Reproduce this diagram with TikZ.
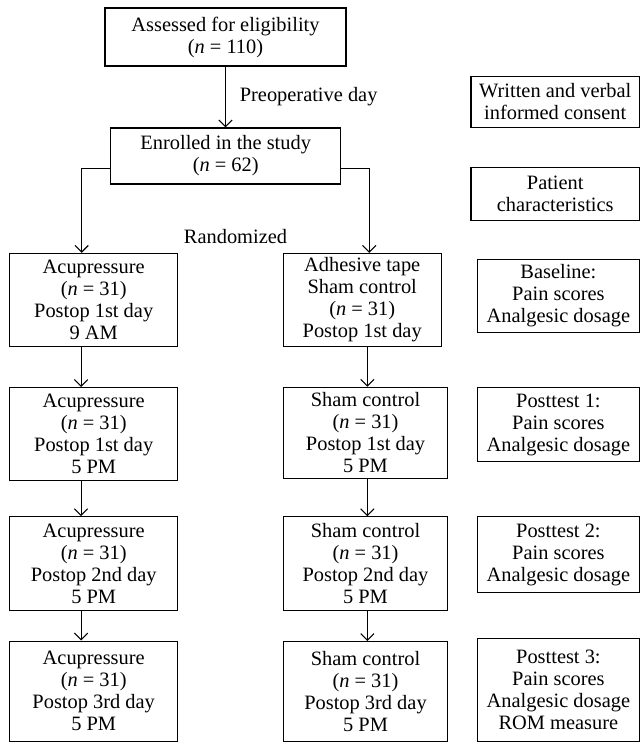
\documentclass[tikz,border=0pt]{standalone}
\usepackage{fontspec}
\setmainfont{Liberation Serif}
\usetikzlibrary{arrows.meta}

\begin{document}
\begin{tikzpicture}[x=0.75pt, y=-0.75pt,
    font=\fontsize{15.3}{16.5}\selectfont,
    box/.style={draw, line width=0.8pt, align=center, inner sep=0pt},
    arr/.style={line width=0.8pt, -{Straight Barb[length=5pt,width=10pt]}}]
    \useasboundingbox (0,0) rectangle (640,743);

    % main flow
    \node[box, minimum width=180.75pt, minimum height=43.5pt] (assess) at (225.5,37)
        {Assessed for eligibility\\(\textit{n} = 110)};
    \node[box, minimum width=172.5pt, minimum height=42pt] (enrol) at (225.7,156)
        {Enrolled in the study\\(\textit{n} = 62)};

    \node[box, minimum width=126pt, minimum height=70pt] (A1) at (93.7,300)
        {Acupressure\\(\textit{n} = 31)\\Postop 1st day\\9 AM};
    \node[box, minimum width=126pt, minimum height=70pt] (A2) at (93.7,434.2)
        {Acupressure\\(\textit{n} = 31)\\Postop 1st day\\5 PM};
    \node[box, minimum width=126pt, minimum height=70.7pt] (A3) at (93.7,563.8)
        {Acupressure\\(\textit{n} = 31)\\Postop 2nd day\\5 PM};
    \node[box, minimum width=126pt, minimum height=75.4pt] (A4) at (93.7,691.3)
        {Acupressure\\(\textit{n} = 31)\\Postop 3rd day\\5 PM};

    \node[box, minimum width=118.3pt, minimum height=70pt] (S1) at (362.2,300)
        {Adhesive tape\\Sham control\\(\textit{n} = 31)\\Postop 1st day};
    \node[box, minimum width=123.3pt, minimum height=68.3pt] (S2) at (365.5,432.8)
        {Sham control\\(\textit{n} = 31)\\Postop 1st day\\5 PM};
    \node[box, minimum width=123.3pt, minimum height=70.5pt] (S3) at (365.5,563.7)
        {Sham control\\(\textit{n} = 31)\\Postop 2nd day\\5 PM};
    \node[box, minimum width=123.3pt, minimum height=75pt] (S4) at (365.5,691.5)
        {Sham control\\(\textit{n} = 31)\\Postop 3rd day\\5 PM};

    % measurements column
    \node[box, minimum width=126.4pt, minimum height=38.8pt] (consent) at (555.25,101.9)
        {Written and verbal\\informed consent};
    \node[box, minimum width=126.4pt, minimum height=40pt] (patient) at (555.25,194)
        {Patient\\characteristics};
    \node[box, minimum width=121.6pt, minimum height=55.3pt] (base) at (558.4,295.9)
        {Baseline:\\Pain scores\\Analgesic dosage};
    \node[box, minimum width=121.6pt, minimum height=55.8pt] (post1) at (558.4,424.5)
        {Posttest 1:\\Pain scores\\Analgesic dosage};
    \node[box, minimum width=121.6pt, minimum height=57pt] (post2) at (558.4,554.7)
        {Posttest 2:\\Pain scores\\Analgesic dosage};
    \node[box, minimum width=121.6pt, minimum height=77.4pt] (post3) at (558.4,689.9)
        {Posttest 3:\\Pain scores\\Analgesic dosage\\ROM measure};

    % connectors
    \draw[arr] (assess.south) -- (assess.south |- enrol.north)
        node[midway, anchor=west, xshift=7pt] (preop) {Preoperative day};
    \draw[arr] ([yshift=-9.2pt]enrol.west) -| ([xshift=-9pt]A1.north);
    \draw[arr] ([yshift=-9.2pt]enrol.east) -| ([xshift=5.3pt]S1.north);
    \node[anchor=base] (rand) at (235.5,243.3) {Randomized};

    \draw[arr] ([xshift=-9.5pt]A1.south) -- ([xshift=-9.5pt]A2.north);
    \draw[arr] ([xshift=-9.5pt]A2.south) -- ([xshift=-9.5pt]A3.north);
    \draw[arr] ([xshift=-9.5pt]A3.south) -- ([xshift=-9.5pt]A4.north);

    \draw[arr] ([xshift=1.4pt]S2.north |- S1.south) -- ([xshift=1.4pt]S2.north);
    \draw[arr] ([xshift=1.4pt]S2.south) -- ([xshift=1.4pt]S3.north);
    \draw[arr] ([xshift=1.4pt]S3.south) -- ([xshift=1.4pt]S4.north);
\end{tikzpicture}
\end{document}
